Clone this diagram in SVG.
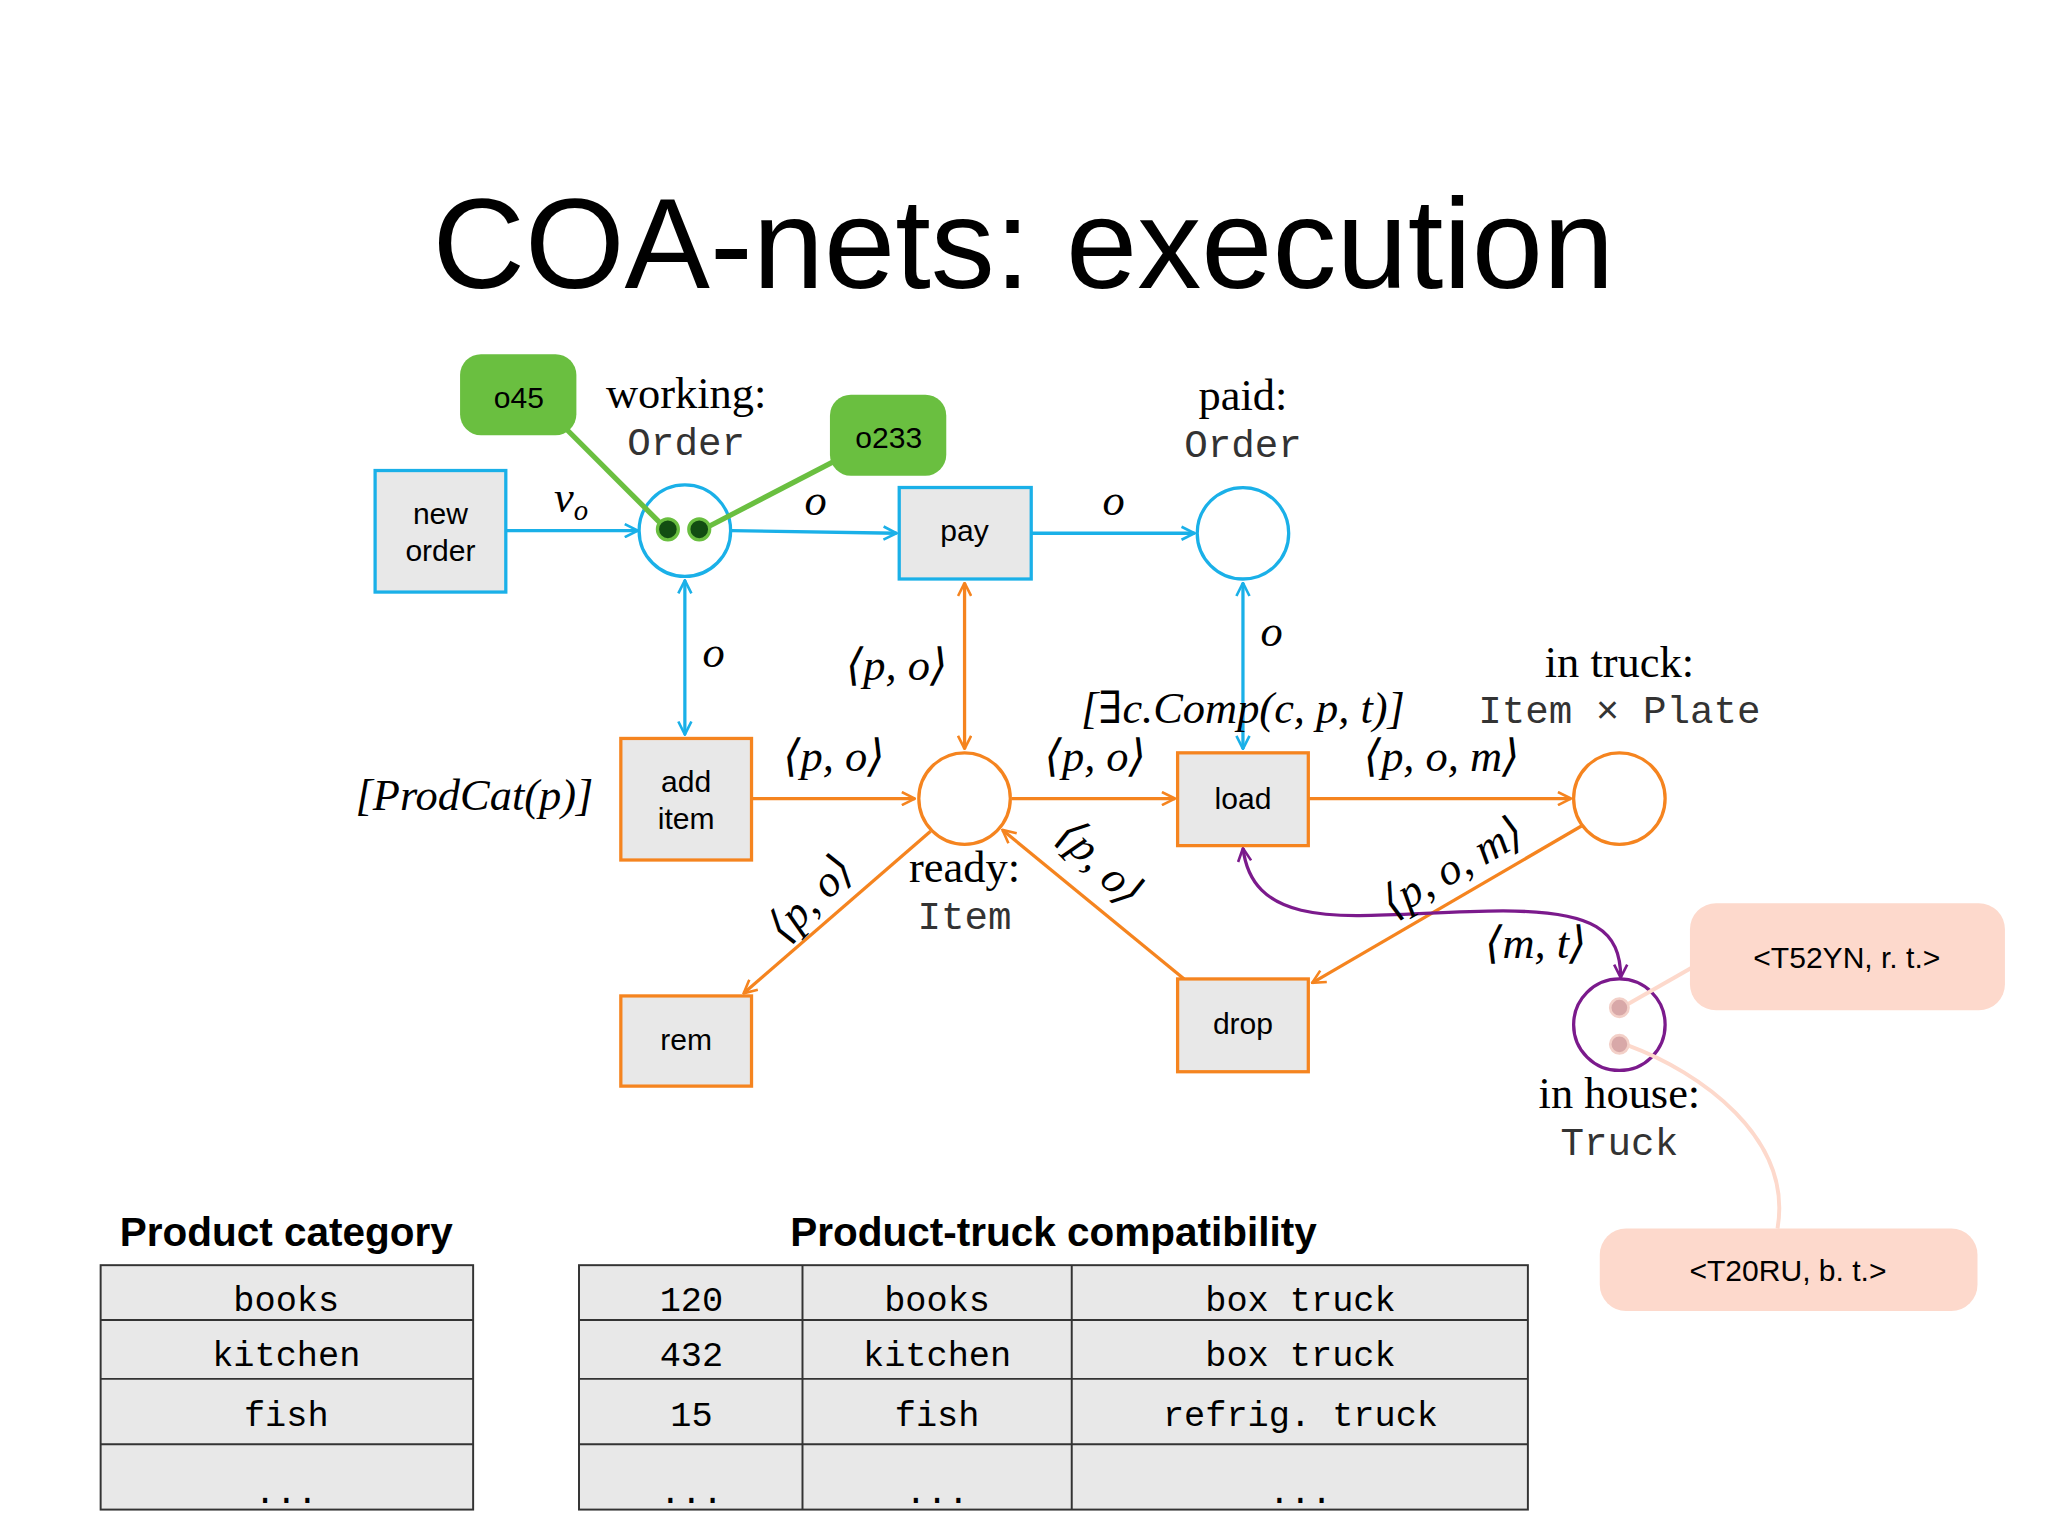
<svg xmlns="http://www.w3.org/2000/svg" width="2048" height="1536" viewBox="0 0 2048 1536">
<defs>
<style>
.b{stroke:#1ab0e8;stroke-width:2.5;fill:none}
.o{stroke:#f5841f;stroke-width:2.5;fill:none}
.bx{fill:#e8e8e8;stroke-width:2.5}
.pl{fill:#fff;stroke-width:2.5}
.s{font-family:"Liberation Sans",Arial,sans-serif;font-size:23px;text-anchor:middle}
.m{font-family:"Liberation Serif","DejaVu Serif",serif;font-size:34px;text-anchor:middle;font-style:italic}
.r{font-family:"Liberation Serif","DejaVu Serif",serif;font-size:34px;text-anchor:middle}
.t{font-family:"Liberation Mono","DejaVu Sans Mono",monospace;font-size:30px;text-anchor:middle;fill:#333}
.tb{font-family:"Liberation Mono","DejaVu Sans Mono",monospace;font-size:27px;text-anchor:middle}
.h{font-family:"Liberation Sans",Arial,sans-serif;font-size:31px;font-weight:bold;text-anchor:middle}
</style>
<marker id="ab" viewBox="0 0 12 12" refX="11" refY="6" markerWidth="12" markerHeight="12" markerUnits="userSpaceOnUse" orient="auto-start-reverse"><path d="M1,1 L11,6 L1,11" fill="none" stroke="#1ab0e8" stroke-width="2"/></marker>
<marker id="ao" viewBox="0 0 12 12" refX="11" refY="6" markerWidth="12" markerHeight="12" markerUnits="userSpaceOnUse" orient="auto-start-reverse"><path d="M1,1 L11,6 L1,11" fill="none" stroke="#f5841f" stroke-width="2"/></marker>
<marker id="ap" viewBox="0 0 12 12" refX="11" refY="6" markerWidth="12" markerHeight="12" markerUnits="userSpaceOnUse" orient="auto-start-reverse"><path d="M1,1 L11,6 L1,11" fill="none" stroke="#7b1a8c" stroke-width="2"/></marker>
</defs>
<rect width="2048" height="1536" fill="#fff"/>
<g transform="scale(1.307)">
<text x="783" y="220" font-family="Liberation Sans,Arial,sans-serif" font-size="98" text-anchor="middle">COA-nets: execution</text>

<g id="connectors">
<path class="b" d="M387,406 L488,406" marker-end="url(#ab)"/>
<path class="b" d="M560,406 L686,408" marker-end="url(#ab)"/>
<path class="b" d="M789,408 L914,408" marker-end="url(#ab)"/>
<path class="b" d="M524,444 L524,562" marker-start="url(#ab)" marker-end="url(#ab)"/>
<path class="b" d="M951,446 L951,573" marker-start="url(#ab)" marker-end="url(#ab)"/>
<path class="o" d="M575,611 L700,611" marker-end="url(#ao)"/>
<path class="o" d="M738,446 L738,573" marker-start="url(#ao)" marker-end="url(#ao)"/>
<path class="o" d="M774,611 L899,611" marker-end="url(#ao)"/>
<path class="o" d="M1001,611 L1202,611" marker-end="url(#ao)"/>
<path class="o" d="M712,636 L569,760" marker-end="url(#ao)"/>
<path class="o" d="M906,749 L767,635" marker-end="url(#ao)"/>
<path class="o" d="M1210,632 L1004,752" marker-end="url(#ao)"/>
<path d="M951,649 C960,720 1050,697 1150,697 C1220,697 1240,712 1240,748" fill="none" stroke="#7b1a8c" stroke-width="2.5" marker-start="url(#ap)" marker-end="url(#ap)"/>
<text class="m" x="437" y="392">ν<tspan font-size="22" dy="6">o</tspan></text>
<text class="m" x="624" y="394">o</text>
<text class="m" x="852" y="394">o</text>
<text class="m" x="546" y="510">o</text>
<text class="m" x="973" y="494">o</text>
<text class="m" x="686" y="520">⟨p, o⟩</text>
<text class="m" x="638" y="590">⟨p, o⟩</text>
<text class="m" x="838" y="590">⟨p, o⟩</text>
<text class="m" x="1103" y="590">⟨p, o, m⟩</text>
<text class="m" x="951" y="553">[∃c.Comp(c, p, t)]</text>
<text class="m" x="363" y="620">[ProdCat(p)]</text>
<text class="m" transform="translate(628,695) rotate(-45)">⟨p, o⟩</text>
<text class="m" transform="translate(834,668) rotate(45)">⟨p, o⟩</text>
<text class="m" transform="translate(1117,673) rotate(-30)">⟨p, o, m⟩</text>
<text class="m" x="1175" y="733">⟨m, t⟩</text>
</g>

<g id="new-order"><rect class="bx" x="287" y="360" width="100" height="93" stroke="#1ab0e8"/><text class="s" x="337" y="401">new</text><text class="s" x="337" y="429">order</text></g>
<g id="pay"><rect class="bx" x="688" y="373" width="101" height="70" stroke="#1ab0e8"/><text class="s" x="738" y="414">pay</text></g>
<g id="add-item"><rect class="bx" x="475" y="565" width="100" height="93" stroke="#f5841f"/><text class="s" x="525" y="606">add</text><text class="s" x="525" y="634">item</text></g>
<g id="load"><rect class="bx" x="901" y="576" width="100" height="71" stroke="#f5841f"/><text class="s" x="951" y="619">load</text></g>
<g id="rem"><rect class="bx" x="475" y="762" width="100" height="69" stroke="#f5841f"/><text class="s" x="525" y="803">rem</text></g>
<g id="drop"><rect class="bx" x="901" y="749" width="100" height="71" stroke="#f5841f"/><text class="s" x="951" y="791">drop</text></g>

<g id="working"><circle class="pl" cx="524" cy="406" r="35" stroke="#1ab0e8"/><text class="r" x="525" y="312">working:</text><text class="t" x="525" y="348">Order</text></g>
<g id="paid"><circle class="pl" cx="951" cy="408" r="35" stroke="#1ab0e8"/><text class="r" x="951" y="314">paid:</text><text class="t" x="951" y="350">Order</text></g>
<g id="ready"><circle class="pl" cx="738" cy="611" r="35" stroke="#f5841f"/><text class="r" x="738" y="675">ready:</text><text class="t" x="738" y="711">Item</text></g>
<g id="in-truck"><circle class="pl" cx="1239" cy="611" r="35" stroke="#f5841f"/><text class="r" x="1239" y="518">in truck:</text><text class="t" x="1239" y="553">Item × Plate</text></g>
<g id="in-house"><circle class="pl" cx="1239" cy="784" r="35" stroke="#7b1a8c"/><text class="r" x="1239" y="848">in house:</text><text class="t" x="1239" y="884">Truck</text></g>

<g id="o45"><path d="M430,325 L506,401" stroke="#6abf40" stroke-width="4"/><rect x="352" y="271" width="89" height="62" rx="16" fill="#6abf40"/><text class="s" x="397" y="312" font-size="25">o45</text></g>
<g id="o233"><path d="M640,352 L540,404" stroke="#6abf40" stroke-width="4"/><rect x="635" y="302" width="89" height="62" rx="16" fill="#6abf40"/><text class="s" x="680" y="343" font-size="25">o233</text></g>
<circle cx="511" cy="405" r="8" fill="#124d12" stroke="#6abf40" stroke-width="2.5"/>
<circle cx="535" cy="405" r="8" fill="#124d12" stroke="#6abf40" stroke-width="2.5"/>

<g id="t52yn"><path d="M1295,740 L1246,768" stroke="#fdd9cc" stroke-width="3"/><rect x="1293" y="691" width="241" height="82" rx="20" fill="#fdd9cc"/><text class="s" x="1413" y="741">&lt;T52YN, r. t.&gt;</text></g>
<g id="t20ru"><path d="M1246,800 C1300,820 1372,870 1360,940" fill="none" stroke="#fdd9cc" stroke-width="3"/><rect x="1224" y="940" width="289" height="63" rx="20" fill="#fdd9cc"/><text class="s" x="1368" y="980">&lt;T20RU, b. t.&gt;</text></g>
<circle cx="1239" cy="771" r="7" fill="#d8a8a8" stroke="#f3d0c8" stroke-width="2"/>
<circle cx="1239" cy="799" r="7" fill="#d8a8a8" stroke="#f3d0c8" stroke-width="2"/>

<g id="product-category">
<text class="h" x="219" y="953">Product category</text>
<rect x="77" y="968" width="285" height="187" fill="#e8e8e8" stroke="#333" stroke-width="1.5"/>
<path d="M77,1010 H362 M77,1055 H362 M77,1105 H362" stroke="#333" stroke-width="1.5"/>
<text class="tb" x="219" y="1003">books</text><text class="tb" x="219" y="1045">kitchen</text><text class="tb" x="219" y="1091">fish</text><text class="tb" x="219" y="1150">...</text>
</g>
<g id="compat">
<text class="h" x="806" y="953">Product-truck compatibility</text>
<rect x="443" y="968" width="726" height="187" fill="#e8e8e8" stroke="#333" stroke-width="1.5"/>
<path d="M443,1010 H1169 M443,1055 H1169 M443,1105 H1169 M614,968 V1155 M820,968 V1155" stroke="#333" stroke-width="1.5"/>
<text class="tb" x="529" y="1003">120</text><text class="tb" x="717" y="1003">books</text><text class="tb" x="995" y="1003">box truck</text>
<text class="tb" x="529" y="1045">432</text><text class="tb" x="717" y="1045">kitchen</text><text class="tb" x="995" y="1045">box truck</text>
<text class="tb" x="529" y="1091">15</text><text class="tb" x="717" y="1091">fish</text><text class="tb" x="995" y="1091">refrig. truck</text>
<text class="tb" x="529" y="1150">...</text><text class="tb" x="717" y="1150">...</text><text class="tb" x="995" y="1150">...</text>
</g>
</g>
</svg>
